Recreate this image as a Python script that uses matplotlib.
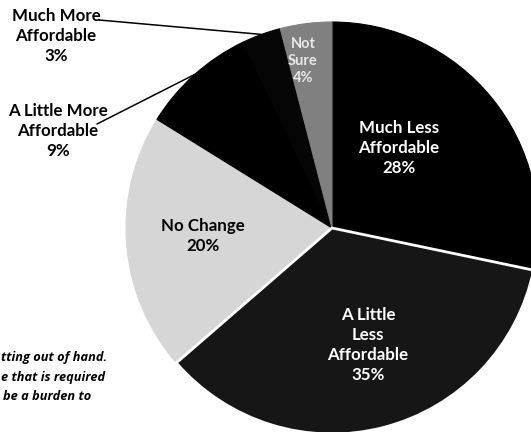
import matplotlib
matplotlib.use("Agg")
import matplotlib.pyplot as plt
import numpy as np

# Survey responses, clockwise from twelve o'clock
categories = ["Much Less\nAffordable", "A Little\nLess\nAffordable", "No Change",
              "A Little More\nAffordable", "Much More\nAffordable", "Not\nSure"]
shares = [28, 35, 20, 9, 3, 4]
slice_colors = ["#000000", "#161616", "#d6d6d6", "#000000", "#050505", "#808080"]
text_colors = ["white", "white", "black", None, None, "#e8e8e8"]

W, H = 531, 432
fig = plt.figure(figsize=(W / 100, H / 100), dpi=100)
ax = fig.add_axes([0, 0, 1, 1])

cx, cy, r = 332, 204, 206
wedges, _ = ax.pie(shares, colors=slice_colors, startangle=90, counterclock=False,
                   center=(cx, cy), radius=r, frame=True,
                   wedgeprops=dict(linewidth=0.8))
for w, c in zip(wedges, slice_colors):
    w.set_edgecolor(c)
ax.set_xlim(0, W)
ax.set_ylim(0, H)
ax.set_aspect("equal")
ax.axis("off")

# white separator around the "A Little Less" slice
wedges[1].set_edgecolor("white")
wedges[1].set_linewidth(2.0)
wedges[1].set_zorder(wedges[1].get_zorder() + 0.5)

font = "Lato"

def label(text, x, y, color, size=12.2):
    ax.text(x, H - y, text, ha="center", va="center", color=color, fontsize=size,
            fontweight="bold", family=font, linespacing=1.3, zorder=6)

def pct(v):
    return f"{v}%"

# labels inside the wedges
inside_pos = {0: (399, 148), 1: (368, 345), 2: (203, 236), 5: (303, 61)}
for i, (x, y) in inside_pos.items():
    size = 10.5 if i == 5 else 12.2
    label(f"{categories[i]}\n{pct(shares[i])}", x, y, text_colors[i], size=size)

# outside labels with leader lines
outside = {4: (56, 36, (99, 20)), 3: (58, 131, (97, 124))}
for i, (x, y, start) in outside.items():
    label(f"{categories[i]}\n{pct(shares[i])}", x, y, "black")
    w = wedges[i]
    mid = np.deg2rad((w.theta1 + w.theta2) / 2)
    ex, ey = cx + r * np.cos(mid), cy + r * np.sin(mid)
    ax.plot([start[0], ex], [H - start[1], ey], color="black", lw=1.1,
            solid_capstyle="round", zorder=5)

# note text along the left edge
note_lines = [("tting out of hand.", 1, 357),
              ("e that is required", 1, 377),
              ("be a burden to", 3, 397)]
for txt, x, y in note_lines:
    ax.text(x, H - y, txt, ha="left", va="center", fontsize=9.2,
            fontweight="bold", fontstyle="italic", family="Open Sans", color="black")

fig.savefig("out.png", dpi=100)
